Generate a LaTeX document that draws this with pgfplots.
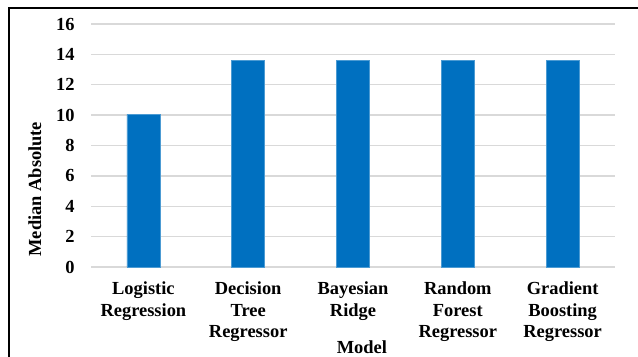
\documentclass[border=0pt]{standalone}
\usepackage{fontspec}
\setmainfont{Liberation Serif}
\usepackage{pgfplots}
\pgfplotsset{compat=1.18}
\definecolor{barblue}{HTML}{0070C0}
\definecolor{gridgray}{HTML}{D9D9D9}
\begin{document}
\fontsize{18.5}{22}\selectfont\bfseries
\begin{tikzpicture}[x=1bp,y=1bp]
\path[use as bounding box] (0,0) rectangle (638,356);
\draw[black,line width=1.3bp] (9,-5) -- (9,348) -- (645,348);
\begin{axis}[
  at={(91bp,89bp)}, anchor=south west,
  scale only axis, width=524bp, height=243bp,
  ymin=0, ymax=16, ytick={0,2,...,16},
  xmin=-0.5, xmax=4.5,
  xtick=data,
  xticklabels={{Logistic\\Regression},{Decision\\Tree\\Regressor},{Bayesian\\Ridge},{Random\\Forest\\Regressor},{Gradient\\Boosting\\Regressor}},
  xticklabel style={align=center, font=\fontsize{18.5}{22}\selectfont\bfseries, yshift=-8bp},
  yticklabel style={font=\fontsize{18.5}{22}\selectfont\bfseries, xshift=-10bp},
  /pgf/number format/assume math mode=true,
  axis line style={draw=none},
  major tick length=0pt,
  ymajorgrids, grid style={gridgray, line width=1.5bp},
  xlabel={Model}, ylabel={Median Absolute},
  xlabel style={at={(rel axis cs:0.517,-0.33)}, anchor=center, font=\fontsize{18.5}{22}\selectfont\bfseries},
  ylabel style={at={(rel axis cs:-0.107,0.32)}, anchor=center, font=\fontsize{18.5}{22}\selectfont\bfseries},
  ybar, bar width=33bp,
]
\addplot[fill=barblue, draw=barblue!70!white, line width=0.6bp] coordinates {(0,10.05) (1,13.6) (2,13.6) (3,13.6) (4,13.6)};
\end{axis}
\end{tikzpicture}
\end{document}
